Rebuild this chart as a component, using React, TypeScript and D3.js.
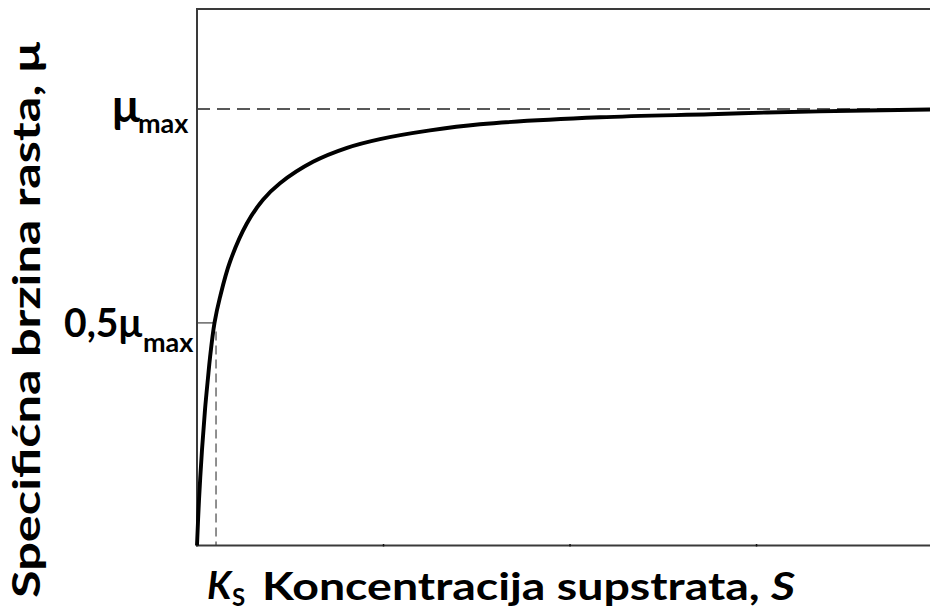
import React from "react";
import * as d3 from "d3";

// Curve: substrate concentration S (arbitrary units) and mu/mu_max
const sValues = [0, 0.107, 0.268, 0.429, 0.589, 0.697, 0.938, 1.233, 1.769, 2.665, 3.539, 4.45, 6.22, 8.043, 9.812, 12.49, 15.17, 21.61, 27.51, 30.56, 35.01, 39.3];
const muValues = [0, 0.104, 0.219, 0.311, 0.384, 0.43, 0.51, 0.569, 0.65, 0.737, 0.792, 0.83, 0.879, 0.911, 0.931, 0.951, 0.965, 0.981, 0.988, 0.992, 0.996, 0.999];
const xTicks = [10, 20, 30];
const muMax = 1.0;
const halfTick = 0.51;
const ksValue = 1.02;

const W = 930;
const H = 614;

export default function App() {
  const x = d3.scaleLinear().domain([0, 39.3]).range([197, 930]);
  const y = d3.scaleLinear().domain([0, 1]).range([545.5, 109]);
  const yTop = 9;
  const pts: [number, number][] = sValues.map((s, i) => [s, muValues[i]]);
  const line = d3
    .line<[number, number]>()
    .x((d) => x(d[0]))
    .y((d) => y(d[1]))
    .curve(d3.curveCatmullRom.alpha(0.5));

  const font = "Lato, 'Open Sans', sans-serif";
  const axisColor = "#3a3a3a";

  return (
    <svg width={W} height={H} style={{ position: "absolute", left: 0, top: 0, background: "#fff" }}>
      {/* mu_max dashed line */}
      <line x1={x(0)} x2={x(39.3)} y1={y(muMax)} y2={y(muMax)} stroke="#222" strokeWidth={1.3} strokeDasharray="13 7" />
      {/* 0.5 mu_max tick */}
      <line x1={x(0)} x2={x(ksValue) - 3} y1={y(halfTick)} y2={y(halfTick)} stroke="#666" strokeWidth={1.5} />
      {/* Ks dashed vertical */}
      <line x1={x(ksValue)} x2={x(ksValue)} y1={y(0.49)} y2={y(0)} stroke="#555" strokeWidth={1.3} strokeDasharray="9 5" />
      {/* axes frame */}
      <line x1={x(0)} x2={x(0)} y1={yTop} y2={y(0) + 1} stroke={axisColor} strokeWidth={2} />
      <line x1={x(0) - 1} x2={W} y1={yTop} y2={yTop} stroke={axisColor} strokeWidth={2} />
      <line x1={x(0) - 1} x2={W} y1={y(0)} y2={y(0)} stroke={axisColor} strokeWidth={2} />
      {xTicks.map((t) => (
        <line key={t} x1={x(t)} x2={x(t)} y1={y(0) - 1.5} y2={y(0) + 1} stroke="#111" strokeWidth={1.5} />
      ))}
      {/* curve */}
      <path d={line(pts) || ""} fill="none" stroke="#000" strokeWidth={3.9} strokeLinejoin="round" />

      {/* y tick labels */}
      <text x={112} y={122} fontFamily={font} fontWeight={700} fontSize={46} fill="#000">μ</text>
      <text x={138} y={133} fontFamily={font} fontWeight={700} fontSize={27} fill="#000">max</text>
      <text x={64} y={337} fontFamily={font} fontWeight={700} fontSize={40} fill="#000" textLength={78} lengthAdjust="spacingAndGlyphs">0,5μ</text>
      <text x={143} y={352} fontFamily={font} fontWeight={700} fontSize={27} fill="#000">max</text>

      {/* Ks label */}
      <text x={207} y={599} fontFamily={font} fontWeight={700} fontStyle="italic" fontSize={38} fill="#000">K</text>
      <text x={232} y={606} fontFamily={font} fontWeight={700} fontSize={24} fill="#000">S</text>

      {/* x axis title */}
      <text x={262} y={600} fontFamily={font} fontWeight={700} fontSize={38} fill="#000" textLength={533} lengthAdjust="spacingAndGlyphs">
        Koncentracija supstrata, <tspan fontStyle="italic">S</tspan>
      </text>

      {/* y axis title */}
      <text
        transform="translate(40,598) rotate(-90)"
        x={0}
        y={0}
        fontFamily={font}
        fontWeight={700}
        fontSize={38}
        fill="#000"
        textLength={556}
        lengthAdjust="spacingAndGlyphs"
      >
        Specifićna brzina rasta, μ
      </text>
    </svg>
  );
}
